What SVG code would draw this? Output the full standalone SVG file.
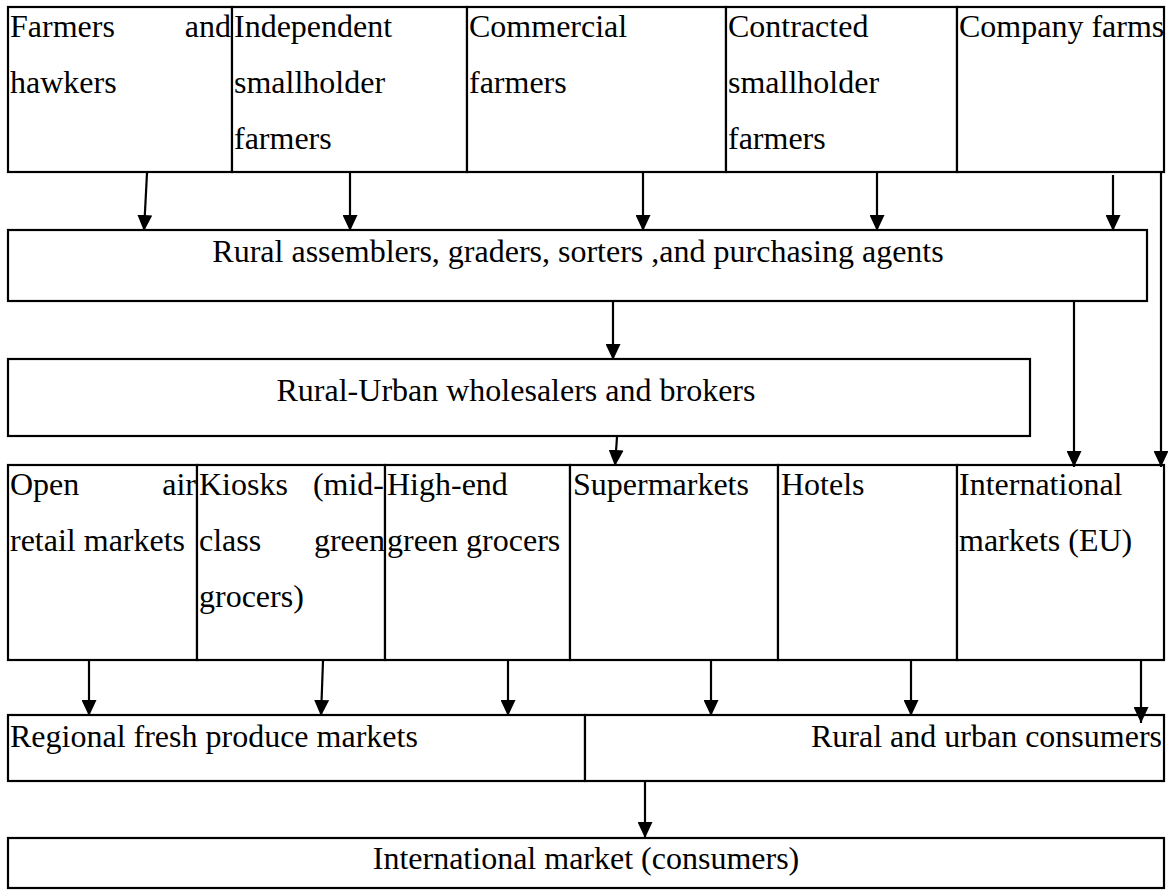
<svg xmlns="http://www.w3.org/2000/svg" width="1168" height="892" viewBox="0 0 1168 892">
<style>
.box{fill:#fff;stroke:#000;stroke-width:2.2}
.t{font-family:"Liberation Serif","Times New Roman",serif;font-size:32px;fill:#000}
.c{text-anchor:middle}
.e{text-anchor:end}
.ln{stroke:#000;stroke-width:2.2;fill:none;marker-end:url(#ah)}
</style>
<defs>
<marker id="ah" markerUnits="userSpaceOnUse" markerWidth="16" markerHeight="15" refX="16" refY="7.5" orient="auto" viewBox="0 0 16 15">
<path d="M0,0 L16,7.5 L0,15 z" fill="#000"/>
</marker>
</defs>
<g id="farmers-hawkers"><rect class="box" x="8" y="7" width="224" height="165"/><text class="t" x="10" y="37">Farmers</text><text class="t e" x="231" y="37">and</text><text class="t" x="10" y="93">hawkers</text></g>
<g id="independent"><rect class="box" x="232" y="7" width="235" height="165"/><text class="t" x="234" y="37">Independent</text><text class="t" x="234" y="93">smallholder</text><text class="t" x="234" y="149">farmers</text></g>
<g id="commercial"><rect class="box" x="467" y="7" width="259" height="165"/><text class="t" x="469" y="37">Commercial</text><text class="t" x="469" y="93">farmers</text></g>
<g id="contracted"><rect class="box" x="726" y="7" width="231" height="165"/><text class="t" x="728" y="37">Contracted</text><text class="t" x="728" y="93">smallholder</text><text class="t" x="728" y="149">farmers</text></g>
<g id="company"><rect class="box" x="957" y="7" width="207" height="165"/><text class="t" x="959" y="37">Company farms</text></g>
<g id="assemblers"><rect class="box" x="8" y="230" width="1139" height="71"/><text class="t c" x="578" y="262">Rural assemblers, graders, sorters ,and purchasing agents</text></g>
<g id="wholesalers"><rect class="box" x="8" y="359" width="1022" height="77"/><text class="t c" x="516" y="401">Rural-Urban wholesalers and brokers</text></g>
<g id="open-air"><rect class="box" x="8" y="465" width="189" height="195"/><text class="t" x="10" y="495">Open</text><text class="t e" x="196" y="495">air</text><text class="t" x="10" y="551">retail markets</text></g>
<g id="kiosks"><rect class="box" x="197" y="465" width="188" height="195"/><text class="t" x="199" y="495">Kiosks</text><text class="t e" x="384" y="495">(mid-</text><text class="t" x="199" y="551">class</text><text class="t e" x="385" y="551">green</text><text class="t" x="199" y="607">grocers)</text></g>
<g id="high-end"><rect class="box" x="385" y="465" width="185" height="195"/><text class="t" x="387" y="495">High-end</text><text class="t" x="387" y="551">green grocers</text></g>
<g id="supermarkets"><rect class="box" x="570" y="465" width="208" height="195"/><text class="t" x="573" y="495">Supermarkets</text></g>
<g id="hotels"><rect class="box" x="778" y="465" width="179" height="195"/><text class="t" x="781" y="495">Hotels</text></g>
<g id="intl-eu"><rect class="box" x="957" y="465" width="207" height="195"/><text class="t" x="959" y="495">International</text><text class="t" x="959" y="551">markets (EU)</text></g>
<g id="regional"><rect class="box" x="8" y="715" width="577" height="66"/><text class="t" x="10" y="747">Regional fresh produce markets</text></g>
<g id="consumers"><rect class="box" x="585" y="715" width="579" height="66"/><text class="t e" x="1162" y="747">Rural and urban consumers</text></g>
<g id="intl-consumers"><rect class="box" x="8" y="838" width="1156" height="50"/><text class="t c" x="586" y="869">International market (consumers)</text></g>
<g id="connectors">
<line class="ln" x1="147" y1="173" x2="144" y2="231"/>
<line class="ln" x1="350" y1="173" x2="350" y2="231"/>
<line class="ln" x1="643" y1="173" x2="643" y2="231"/>
<line class="ln" x1="877" y1="173" x2="877" y2="231"/>
<line class="ln" x1="1113" y1="175" x2="1113" y2="231"/>
<line class="ln" x1="1161" y1="173" x2="1161" y2="467"/>
<line class="ln" x1="1074" y1="302" x2="1074" y2="467"/>
<line class="ln" x1="613" y1="302" x2="613" y2="360"/>
<line class="ln" x1="617" y1="437" x2="615" y2="466"/>
<line class="ln" x1="89" y1="661" x2="89" y2="716"/>
<line class="ln" x1="323" y1="661" x2="321" y2="716"/>
<line class="ln" x1="508" y1="661" x2="508" y2="716"/>
<line class="ln" x1="711" y1="661" x2="711" y2="716"/>
<line class="ln" x1="911" y1="661" x2="911" y2="716"/>
<line class="ln" x1="1141" y1="661" x2="1141" y2="723"/>
<line class="ln" x1="645" y1="782" x2="645" y2="838"/>
</g>
</svg>
